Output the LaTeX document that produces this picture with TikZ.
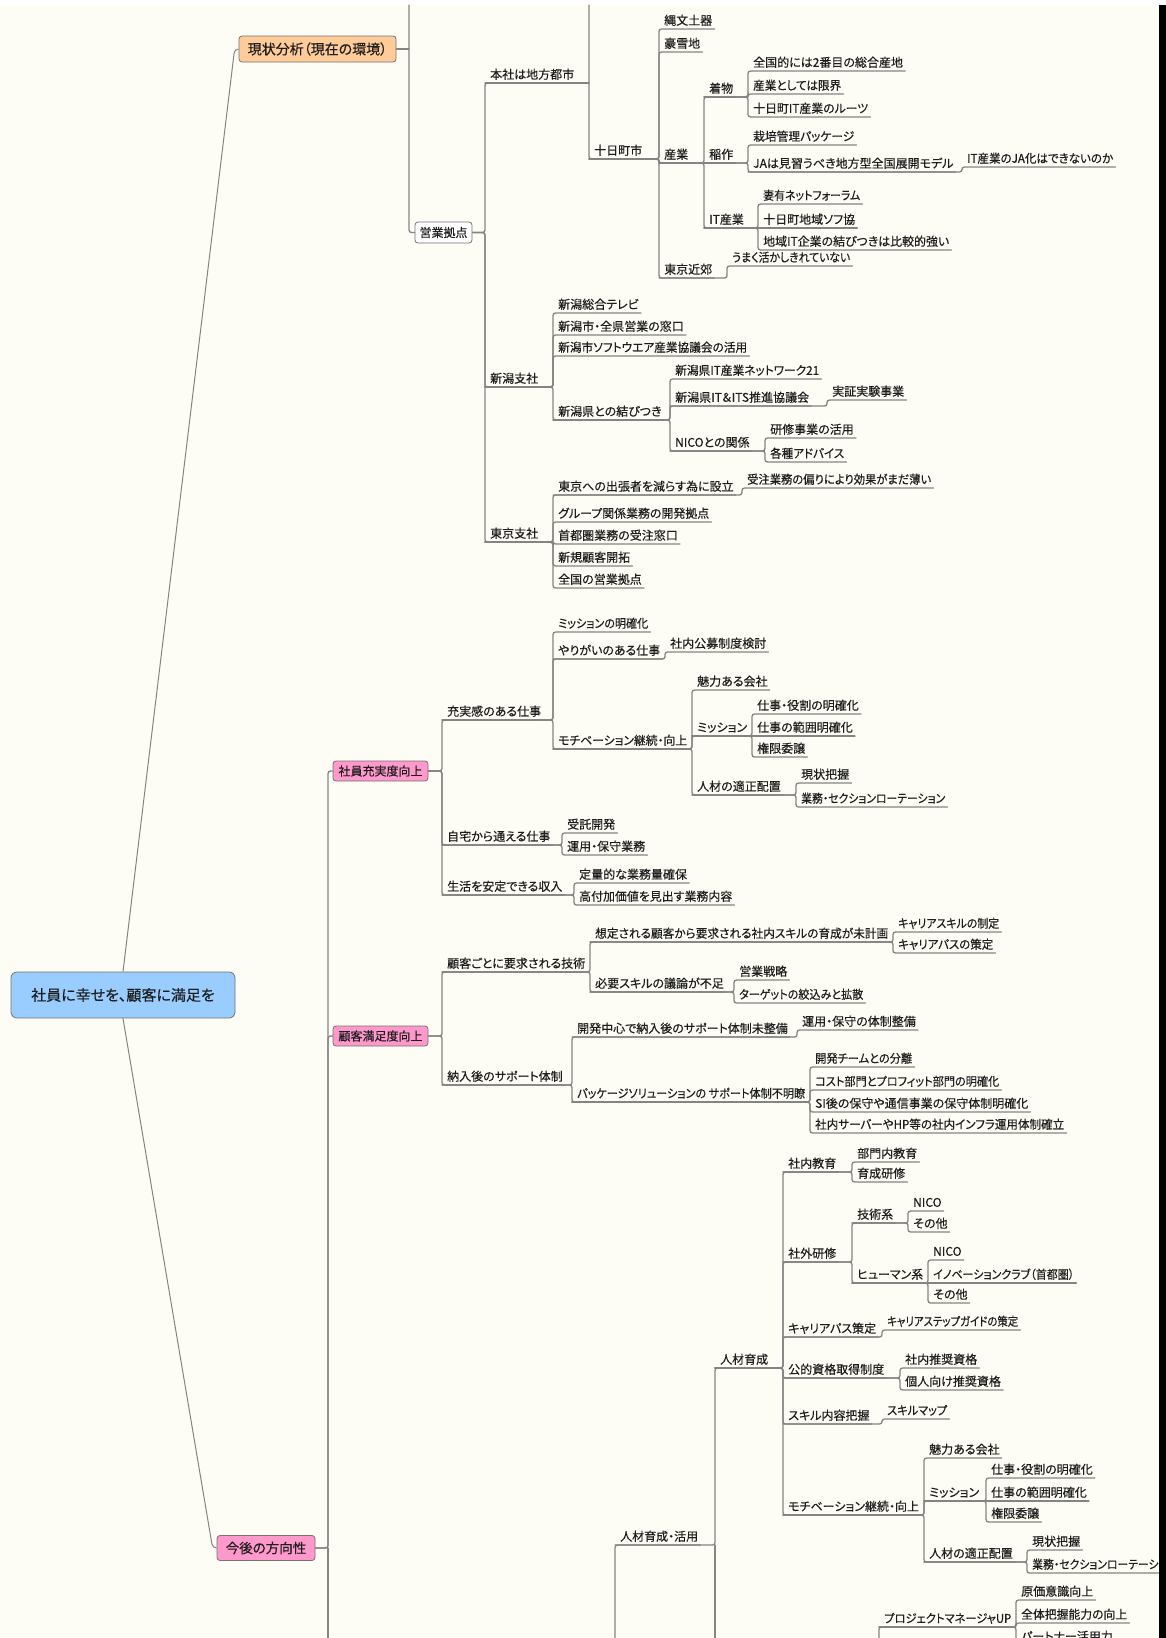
\documentclass[tikz,border=0pt]{standalone}
\usepackage{graphicx}
\usepackage{fontspec}
\newfontfamily\jp{Noto Sans CJK JP}[RawFeature=+palt, FakeBold=0.4]
\definecolor{bg}{RGB}{254,253,245}
\definecolor{ln}{RGB}{132,132,132}
\definecolor{tx}{RGB}{30,30,30}
\definecolor{rootfill}{RGB}{153,204,255}
\definecolor{orangefill}{RGB}{255,204,153}
\definecolor{pinkfill}{RGB}{255,153,204}
\definecolor{boxline}{RGB}{115,115,115}
% squeeze a label horizontally when it is wider than the room it has
\newsavebox\mmtextbox
\newcommand\mmfit[2]{\sbox\mmtextbox{#2}%
  \ifdim\wd\mmtextbox>#1pt\relax\resizebox{#1pt}{\ht\mmtextbox}{\usebox\mmtextbox}%
  \else\usebox\mmtextbox\fi}
% topic text sitting on its own underline; south west = start of underline
\newcommand\mmtopic[5]{\node[topic] (#1) at (#2,#3) {\mmfit{#4}{#5}};}
% parent underline -> vertical spine -> child underline
\newcommand\mmlink[2]{\draw[conn] (#1.south west) -- (#1.south west -| #2.south west) -- (#2.south west) -- (#2.south east);}
% child on the same level as its parent
\newcommand\mmflat[2]{\draw[conn] (#1.south west) -- (#2.south east);}
% boxed parent -> child underline
\newcommand\mmboxlink[2]{\draw[conn] (#1.east) -- (#1.east -| #2.south west) -- (#2.south west) -- (#2.south east);}
\begin{document}
\begin{tikzpicture}[x=1pt,y=-1pt,
  topic/.style={anchor=south west, inner xsep=2pt, inner ysep=1.5pt,
    text height=9pt, text depth=2.5pt, text=tx,
    font=\jp\fontsize{12}{14}\selectfont, execute at begin node={\kern3pt}},
  conn/.style={draw=ln, line width=1.3pt, rounded corners=2.5pt, line cap=round},
  rootline/.style={draw=ln, line width=1pt, rounded corners=4pt},
  box/.style={draw=boxline, line width=0.8pt, rounded corners=3pt, inner sep=0pt,
    text=tx, align=center}]
\useasboundingbox (0,0) rectangle (1166,1638);
\clip (0,0) rectangle (1166,1638);
\fill[bg] (0,0) rectangle (1166,1638);
\fill[white] (0,0) rectangle (1166,5);

% ---------- boxed topics ----------
\node[box, fill=rootfill, minimum width=224pt, minimum height=46pt, rounded corners=6pt,
  font=\jp\fontsize{15}{18}\selectfont] (root) at (123,995) {社員に幸せを、顧客に満足を};
\node[box, fill=orangefill, minimum width=157pt, minimum height=26pt,
  font=\jp\fontsize{14}{16}\selectfont] (genjo) at (317.5,49) {現状分析（現在の環境）};
\node[box, fill=white, minimum width=57pt, minimum height=21pt,
  font=\jp\fontsize{12}{14}\selectfont] (eigyo) at (443.5,232.5) {営業拠点};
\node[box, fill=pinkfill, minimum width=95pt, minimum height=20pt,
  font=\jp\fontsize{12}{14}\selectfont] (shain) at (380.5,771) {社員充実度向上};
\node[box, fill=pinkfill, minimum width=95pt, minimum height=20pt,
  font=\jp\fontsize{12}{14}\selectfont] (kokyaku) at (380.5,1036) {顧客満足度向上};
\node[box, fill=pinkfill, minimum width=98pt, minimum height=25pt,
  font=\jp\fontsize{13.5}{16}\selectfont] (kongo) at (266,1548) {今後の方向性};

% ---------- sales bases ----------
\mmtopic{honsha}{485}{83}{94}{本社は地方都市}
\mmtopic{niigata}{485}{387}{58}{新潟支社}
\mmtopic{tokyo}{485}{542}{58}{東京支社}
\mmtopic{tokamachi}{589}{159}{60}{十日町市}
\mmtopic{jomon}{659}{29}{52}{縄文土器}
\mmtopic{gosetsu}{659}{52}{41}{豪雪地}
\mmtopic{sangyo}{659}{163}{35}{産業}
\mmtopic{kinko}{659}{278}{58}{東京近郊}
\mmtopic{kimono}{704}{97}{34}{着物}
\mmtopic{ine}{704}{163}{34}{稲作}
\mmtopic{itsg}{704}{228}{44}{IT産業}
\mmtopic{kA}{748}{71}{152}{全国的には2番目の総合産地}
\mmtopic{kB}{748}{94}{88}{産業としては限界}
\mmtopic{kC}{748}{117}{115}{十日町IT産業のルーツ}
\mmtopic{iA}{748}{145}{101}{栽培管理パッケージ}
\mmtopic{iB}{748}{172}{204}{JAは見習うべき地方型全国展開モデル}
\mmtopic{iBa}{962}{167}{146}{IT産業のJA化はできないのか}
\mmtopic{tA}{758}{204}{97}{妻有ネットフォーラム}
\mmtopic{tB}{758}{228}{92}{十日町地域ソフ協}
\mmtopic{tC}{758}{250}{186}{地域IT企業の結びつきは比較的強い}
\mmtopic{uA}{727}{266}{118}{うまく活かしきれていない}

\mmtopic{nA}{553}{313}{82}{新潟総合テレビ}
\mmtopic{nB}{553}{335}{131}{新潟市・全県営業の窓口}
\mmtopic{nC}{553}{356}{189}{新潟市ソフトウエア産業協議会の活用}
\mmtopic{nD}{553}{420}{107}{新潟県との結びつき}
\mmtopic{nDa}{670}{379}{144}{新潟県IT産業ネットワーク21}
\mmtopic{nDb}{670}{406}{147}{新潟県IT＆ITS推進協議会}
\mmtopic{nDba}{827}{400}{76}{実証実験事業}
\mmtopic{nDc}{670}{451}{85}{NICOとの関係}
\mmtopic{nDca}{765}{438}{86}{研修事業の活用}
\mmtopic{nDcb}{765}{462}{74}{各種アドバイス}

\mmtopic{tkA}{553}{495}{179}{東京への出張者を減らす為に設立}
\mmtopic{tkAa}{742}{488}{184}{受注業務の偏りにより効果がまだ薄い}
\mmtopic{tkB}{553}{522}{151}{グループ関係業務の開発拠点}
\mmtopic{tkC}{553}{544}{125}{首都圏業務の受注窓口}
\mmtopic{tkD}{553}{566}{79}{新規顧客開拓}
\mmtopic{tkE}{553}{588}{90}{全国の営業拠点}

% ---------- employee satisfaction ----------
\mmtopic{sA}{442}{720}{101}{充実感のある仕事}
\mmtopic{sB}{442}{845}{110}{自宅から通える仕事}
\mmtopic{sC}{442}{895}{122}{生活を安定できる収入}
\mmtopic{sAa}{553}{632}{90}{ミッションの明確化}
\mmtopic{sAb}{553}{659}{102}{やりがいのある仕事}
\mmtopic{sAba}{665}{652}{102}{社内公募制度検討}
\mmtopic{sAc}{553}{749}{129}{モチベーション継続・向上}
\mmtopic{sAca}{692}{690}{75}{魅力ある会社}
\mmtopic{sAcb}{692}{736}{50}{ミッション}
\mmtopic{sAcc}{692}{795}{94}{人材の適正配置}
\mmtopic{sAcb1}{752}{714}{104}{仕事・役割の明確化}
\mmtopic{sAcb2}{752}{736}{100}{仕事の範囲明確化}
\mmtopic{sAcb3}{752}{757}{52}{権限委譲}
\mmtopic{sAcc1}{796}{783}{54}{現状把握}
\mmtopic{sAcc2}{796}{807}{144}{業務・セクションローテーション}
\mmtopic{sBa}{562}{833}{51}{受託開発}
\mmtopic{sBb}{562}{855}{82}{運用・保守業務}
\mmtopic{sCa}{574}{883}{109}{定量的な業務量確保}
\mmtopic{sCb}{574}{905}{153}{高付加価値を見出す業務内容}

% ---------- customer satisfaction ----------
\mmtopic{cA}{442}{972}{138}{顧客ごとに要求される技術}
\mmtopic{cB}{442}{1085}{120}{納入後のサポート体制}
\mmtopic{cAa}{590}{942}{293}{想定される顧客から要求される社内スキルの育成が未計画}
\mmtopic{cAa1}{893}{932}{101}{キャリアスキルの制定}
\mmtopic{cAa2}{893}{953}{95}{キャリアパスの策定}
\mmtopic{cAb}{590}{992}{134}{必要スキルの議論が不足}
\mmtopic{cAb1}{734}{980}{52}{営業戦略}
\mmtopic{cAb2}{734}{1003}{124}{ターゲットの絞込みと拡散}
\mmtopic{cBa}{572}{1037}{215}{開発中心で納入後のサポート体制未整備}
\mmtopic{cBa1}{797}{1030}{117}{運用・保守の体制整備}
\mmtopic{cBb}{572}{1102}{228}{パッケージソリューションの サポート体制不明瞭}
\mmtopic{cBb1}{810}{1067}{97}{開発チームとの分離}
\mmtopic{cBb2}{810}{1090}{184}{コスト部門とプロフィット部門の明確化}
\mmtopic{cBb3}{810}{1112}{214}{SI後の保守や通信事業の保守体制明確化}
\mmtopic{cBb4}{810}{1133}{249}{社内サーバーやHP等の社内インフラ運用体制確立}

% ---------- human resources ----------
\mmtopic{ja}{615}{1545}{90}{人材育成・活用}
\mmtopic{jk}{715}{1368}{58}{人材育成}
\mmtopic{e1}{783}{1172}{59}{社内教育}
\mmtopic{e1a}{852}{1162}{66}{部門内教育}
\mmtopic{e1b}{852}{1182}{51}{育成研修}
\mmtopic{e2}{783}{1262}{59}{社外研修}
\mmtopic{e2a}{852}{1223}{46}{技術系}
\mmtopic{e2a1}{908}{1211}{33}{NICO}
\mmtopic{e2a2}{908}{1232}{35}{その他}
\mmtopic{e2b}{852}{1283}{66}{ヒューマン系}
\mmtopic{e2b1}{928}{1260}{33}{NICO}
\mmtopic{e2b2}{928}{1283}{141}{イノベーションクラブ（首都圏）}
\mmtopic{e2b3}{928}{1303}{35}{その他}
\mmtopic{e3}{783}{1337}{89}{キャリアパス策定}
\mmtopic{e3a}{882}{1330}{131}{キャリアステップガイドの策定}
\mmtopic{e4}{783}{1378}{107}{公的資格取得制度}
\mmtopic{e4a}{900}{1368}{78}{社内推奨資格}
\mmtopic{e4b}{900}{1390}{102}{個人向け推奨資格}
\mmtopic{e5}{783}{1424}{89}{スキル内容把握}
\mmtopic{e5a}{882}{1419}{60}{スキルマップ}
\mmtopic{e6}{783}{1515}{131}{モチベーション継続・向上}
\mmtopic{e6a}{924}{1458}{75}{魅力ある会社}
\mmtopic{e6b}{924}{1501}{52}{ミッション}
\mmtopic{e6b1}{986}{1478}{104}{仕事・役割の明確化}
\mmtopic{e6b2}{986}{1501}{100}{仕事の範囲明確化}
\mmtopic{e6b3}{986}{1522}{52}{権限委譲}
\mmtopic{e6c}{924}{1562}{93}{人材の適正配置}
\mmtopic{e6c1}{1027}{1550}{54}{現状把握}
\mmtopic{e6c2}{1027}{1573}{144}{業務・セクションローテーション}
\mmtopic{pm}{879}{1627}{127}{プロジェクトマネージャUP}
\mmtopic{pm1}{1016}{1600}{73}{原価意識向上}
\mmtopic{pm2}{1016}{1623}{106}{全体把握能力の向上}
\mmtopic{pm3}{1016}{1645}{100}{パートナー活用力}

% spines continuing past the edges
\coordinate (gtop) at (409,5);
\coordinate (htop) at (589,5);
\coordinate (kv) at (328,1650);
\coordinate (jv) at (615,1650);
\coordinate (pv) at (879,1650);

% ---------- connectors ----------
\draw[rootline] (root.north) -- ([xshift=-4pt]genjo.west) -- (genjo.west);
\draw[rootline] (root.south) -- ([xshift=-4pt]kongo.west) -- (kongo.west);

\draw[conn] (genjo.east) -- (genjo.east -| gtop);
\draw[conn] (gtop) -- (gtop |- eigyo.west) -- (eigyo.west);
\mmboxlink{eigyo}{honsha}
\mmboxlink{eigyo}{niigata}
\mmboxlink{eigyo}{tokyo}
\draw[conn] (honsha.south west) -- (honsha.south west -| htop);
\draw[conn] (htop) -- (htop |- tokamachi.south west) -- (tokamachi.south east);
\mmlink{tokamachi}{jomon}
\mmlink{tokamachi}{gosetsu}
\mmlink{tokamachi}{sangyo}
\mmlink{tokamachi}{kinko}
\mmlink{sangyo}{kimono}
\mmflat{sangyo}{ine}
\mmlink{sangyo}{itsg}
\mmlink{kimono}{kA}
\mmlink{kimono}{kB}
\mmlink{kimono}{kC}
\mmlink{ine}{iA}
\mmlink{ine}{iB}
\mmlink{iB}{iBa}
\mmlink{itsg}{tA}
\mmflat{itsg}{tB}
\mmlink{itsg}{tC}
\mmlink{kinko}{uA}

\mmlink{niigata}{nA}
\mmlink{niigata}{nB}
\mmlink{niigata}{nC}
\mmlink{niigata}{nD}
\mmlink{nD}{nDa}
\mmlink{nD}{nDb}
\mmlink{nD}{nDc}
\mmlink{nDb}{nDba}
\mmlink{nDc}{nDca}
\mmlink{nDc}{nDcb}

\mmlink{tokyo}{tkA}
\mmlink{tokyo}{tkB}
\mmlink{tokyo}{tkC}
\mmlink{tokyo}{tkD}
\mmlink{tokyo}{tkE}
\mmlink{tkA}{tkAa}

\draw[conn] (kongo.east) -- (kongo.east -| kv) -- (kv |- shain.west) -- (shain.west);
\draw[conn] (kongo.east) -- (kongo.east -| kv) -- (kv |- kokyaku.west) -- (kokyaku.west);
\draw[conn] (kongo.east -| kv) -- (kv);

\mmboxlink{shain}{sA}
\mmboxlink{shain}{sB}
\mmboxlink{shain}{sC}
\mmlink{sA}{sAa}
\mmlink{sA}{sAb}
\mmlink{sA}{sAc}
\mmlink{sAb}{sAba}
\mmlink{sAc}{sAca}
\mmlink{sAc}{sAcb}
\mmlink{sAc}{sAcc}
\mmlink{sAcb}{sAcb1}
\mmflat{sAcb}{sAcb2}
\mmlink{sAcb}{sAcb3}
\mmlink{sAcc}{sAcc1}
\mmlink{sAcc}{sAcc2}
\mmlink{sB}{sBa}
\mmlink{sB}{sBb}
\mmlink{sC}{sCa}
\mmlink{sC}{sCb}

\mmboxlink{kokyaku}{cA}
\mmboxlink{kokyaku}{cB}
\mmlink{cA}{cAa}
\mmlink{cA}{cAb}
\mmlink{cAa}{cAa1}
\mmlink{cAa}{cAa2}
\mmlink{cAb}{cAb1}
\mmlink{cAb}{cAb2}
\mmlink{cB}{cBa}
\mmlink{cB}{cBb}
\mmlink{cBa}{cBa1}
\mmlink{cBb}{cBb1}
\mmlink{cBb}{cBb2}
\mmlink{cBb}{cBb3}
\mmlink{cBb}{cBb4}

\draw[conn] (jv) -- (ja.south west) -- (ja.south east);
\mmlink{ja}{jk}
\draw[conn] (ja.south west -| jk.south west) -- (jk.south west |- jv);
\mmlink{jk}{e1}
\mmlink{jk}{e2}
\mmlink{jk}{e3}
\mmlink{jk}{e4}
\mmlink{jk}{e5}
\mmlink{jk}{e6}
\mmlink{e1}{e1a}
\mmlink{e1}{e1b}
\mmlink{e2}{e2a}
\mmlink{e2}{e2b}
\mmlink{e2a}{e2a1}
\mmlink{e2a}{e2a2}
\mmlink{e2b}{e2b1}
\mmflat{e2b}{e2b2}
\mmlink{e2b}{e2b3}
\mmlink{e3}{e3a}
\mmlink{e4}{e4a}
\mmlink{e4}{e4b}
\mmlink{e5}{e5a}
\mmlink{e6}{e6a}
\mmlink{e6}{e6b}
\mmlink{e6}{e6c}
\mmlink{e6b}{e6b1}
\mmflat{e6b}{e6b2}
\mmlink{e6b}{e6b3}
\mmlink{e6c}{e6c1}
\mmlink{e6c}{e6c2}
\draw[conn] (pv) -- (pm.south west) -- (pm.south east);
\mmlink{pm}{pm1}
\mmlink{pm}{pm2}
\mmlink{pm}{pm3}

% frame edge on the right
\fill[black] (1159,5) rectangle (1166,1638);
\end{tikzpicture}
\end{document}
